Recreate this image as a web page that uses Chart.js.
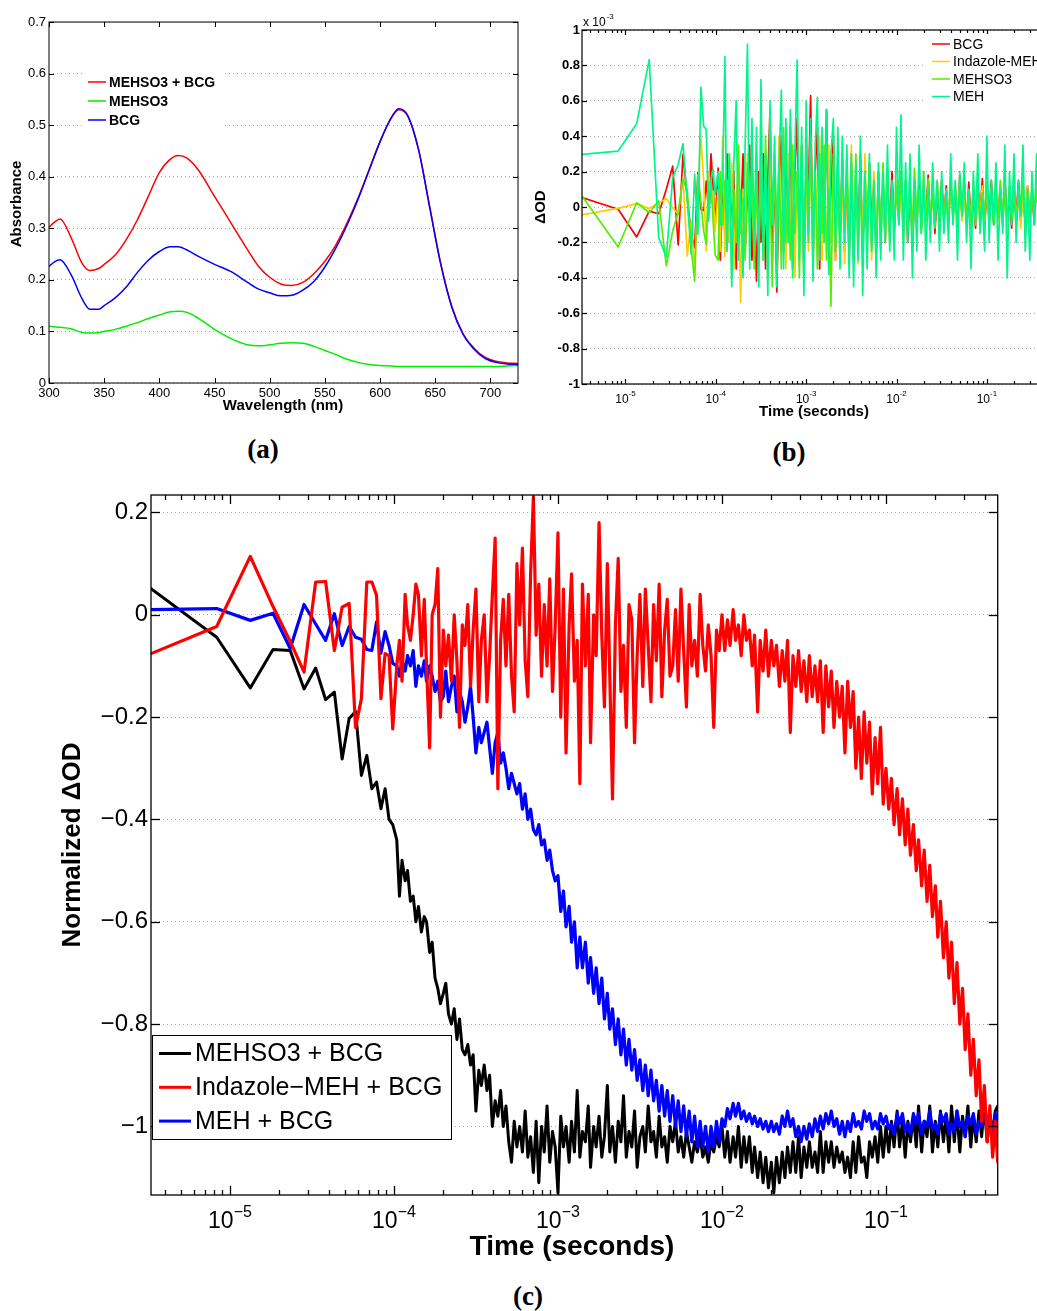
<!DOCTYPE html>
<html>
<head>
<meta charset="utf-8">
<script src="https://cdn.jsdelivr.net/npm/chart.js@4.4.1/dist/chart.umd.min.js"></script>
<style>
  html, body { margin: 0; padding: 0; background: #fff; }
  body { position: relative; width: 1037px; height: 1311px; overflow: hidden; }
  canvas { position: absolute; }
  .cap { position: absolute; font: bold 27px 'Liberation Serif', 'Times New Roman', serif; color: #000; transform: translate(-50%, -50%); white-space: nowrap; }
</style>
</head>
<body>
<canvas id="spectra" width="530" height="430" style="left:0;top:0"></canvas>
<canvas id="raw" width="540" height="430" style="left:530px;top:0"></canvas>
<canvas id="norm" width="1037" height="800" style="left:0;top:480px"></canvas>
<div class="cap" style="left:263px;top:449px">(a)</div>
<div class="cap" style="left:789px;top:452px">(b)</div>
<div class="cap" style="left:528px;top:1296px">(c)</div>
<script>
// (a) absorbance spectra
const wavelengths = [300, 305, 310, 320, 330, 337, 345, 350, 360, 370, 380, 390, 400, 410, 417, 425, 435, 450, 465, 480, 490, 500, 510, 520, 530, 540, 550, 560, 570, 580, 590, 600, 610, 617, 625, 635, 645, 655, 665, 675, 685, 695, 705, 715, 725];
const absMehso3Bcg = [0.302, 0.312, 0.318, 0.282, 0.232, 0.218, 0.222, 0.23, 0.248, 0.278, 0.316, 0.362, 0.408, 0.434, 0.441, 0.436, 0.414, 0.362, 0.31, 0.258, 0.226, 0.205, 0.192, 0.189, 0.195, 0.212, 0.236, 0.268, 0.31, 0.358, 0.413, 0.468, 0.513, 0.53, 0.518, 0.452, 0.342, 0.232, 0.149, 0.097, 0.068, 0.05, 0.042, 0.039, 0.038];
const absMehso3 = [0.11, 0.109, 0.108, 0.105, 0.098, 0.097, 0.098, 0.1, 0.104, 0.11, 0.117, 0.125, 0.132, 0.138, 0.139, 0.137, 0.126, 0.104, 0.086, 0.074, 0.072, 0.074, 0.077, 0.078, 0.077, 0.071, 0.063, 0.055, 0.046, 0.04, 0.036, 0.034, 0.033, 0.032, 0.032, 0.032, 0.032, 0.032, 0.032, 0.032, 0.032, 0.032, 0.032, 0.033, 0.034];
const absBcg = [0.226, 0.235, 0.239, 0.21, 0.163, 0.143, 0.143, 0.15, 0.165, 0.186, 0.214, 0.238, 0.255, 0.264, 0.264, 0.258, 0.246, 0.23, 0.216, 0.195, 0.182, 0.175, 0.169, 0.17, 0.18, 0.197, 0.225, 0.262, 0.306, 0.356, 0.412, 0.468, 0.514, 0.532, 0.519, 0.451, 0.34, 0.23, 0.147, 0.095, 0.066, 0.048, 0.04, 0.037, 0.036];

const decadeTicks = [-5, -4, -3, -2, -1];

// (b) sample times in microseconds
const rawTimeUs = [3.3, 8.3, 13.3, 18.3, 23.3, 28.3, 33.3, 38.3, 43.3, 48.3, 53.3, 58.3, 63.3, 68.3, 73.3, 78.3, 83.3, 88.3, 93.3, 98.3,
  106, 112, 119, 126, 133, 141, 150, 158, 168, 178, 188, 200, 211, 224, 237, 251, 266, 282, 299, 316, 335, 355, 376, 398, 422, 447, 473, 501, 531, 562, 596, 631, 668, 708, 750, 794, 841, 891, 944,
  1000, 1060, 1120, 1190, 1260, 1330, 1410, 1500, 1580, 1680, 1780, 1880, 2000, 2110, 2240, 2370, 2510, 2660, 2820, 2990, 3160, 3350, 3550, 3760, 3980, 4220, 4470, 4730, 5010, 5310, 5620, 5960, 6310, 6680, 7080, 7500, 7940, 8410, 8910, 9440,
  10000, 10600, 11200, 11900, 12600, 13300, 14100, 15000, 15800, 16800, 17800, 18800, 20000, 21100, 22400, 23700, 25100, 26600, 28200, 29900, 31600, 33500, 35500, 37600, 39800, 42200, 44700, 47300, 50100, 53100, 56200, 59600, 63100, 66800, 70800, 75000, 79400, 84100, 89100, 94400,
  100000, 106000, 112000, 119000, 126000, 133000, 141000, 150000, 158000, 168000, 178000, 188000, 200000, 211000, 224000, 237000, 251000, 266000, 282000, 299000, 316000, 335000, 355000, 376000, 398000, 422000, 447000, 473000];

// (b) raw difference signal, units of 1e-3
const rawBcg = [0.053, -0.013, -0.169, -0.023, -0.038, 0.1, 0.231, -0.214, 0.297, 0.05, -0.15, -0.23, 0.194, -0.012, -0.02, 0.147, -0.03, 0.3, 0.118, -0.1,
  0.22, -0.3, 0.1, -0.15, 0.3, -0.2, 0.05, 0.2, -0.35, 0.15, -0.1, 0.3, -0.25, 0.1, 0.35, -0.3, 0.05, -0.42, 0.2,
  -0.2, 0.3, -0.35, 0.15, 0.55, -0.3, 0.2, -0.48, 0.1, 0.4, -0.25, 0.3, -0.1, 0.45, -0.35, 0.2, 0.5, -0.2, 0.35, -0.4, 0.25, 0.1, 0.63, -0.3, 0.2, 0.45, -0.35, 0.3, -0.15, 0.55, -0.25, 0.1, 0.4, -0.3, 0.25, -0.2, 0.3, -0.25, 0.2, -0.3,
  0.25, -0.3, 0.2, -0.15, 0.3, -0.25, 0.1, -0.2, 0.25, -0.1, 0.15, -0.28, 0.2, -0.15, 0.1, -0.2, 0.15, -0.1, 0.2, -0.12,
  0.1, -0.05, 0.2, -0.15, 0.15, -0.2, 0.1, -0.22, 0.05, -0.1, 0.15, -0.12, 0.1, -0.05, 0.18, -0.1, 0.12, -0.15, 0.08, -0.1, 0.15, -0.05,
  0.12, -0.08, 0.15, -0.05, 0.1, -0.12, 0.18, -0.06, 0.1, -0.1, 0.14, -0.08, 0.06, -0.12, 0.12, -0.04, 0.16, -0.1, 0.08, -0.06, 0.15, -0.1, 0.1, -0.05, 0.12, -0.08, 0.18, -0.1, 0.06, -0.12, 0.1, -0.05, 0.15, -0.08, 0.1, -0.1, 0.12, -0.06, 0.08, -0.1, 0.15, -0.05, 0.1, -0.08, 0.12, -0.05];
const rawIndazoleMeh = [-0.045, -0.008, 0.019, -0.009, 0.024, 0.047, -0.004, -0.041, 0.166, -0.277, -0.079, -0.352, 0.1, 0.4, 0.15, -0.248, 0.2, 0.02, 0.09, -0.14,
  0.1, -0.25, 0.4, -0.28, 0.15, -0.2, 0.25, -0.35, 0.05, 0.2, -0.54, 0.1, -0.2, 0.3, -0.15, 0.25, -0.3, 0.1, -0.2,
  0.3, -0.25, 0.15, -0.4, 0.35, -0.1, 0.2, -0.3, 0.4, -0.2, 0.1, -0.35, 0.3, -0.15, 0.25, -0.4, 0.2, -0.1, 0.35, -0.3, 0.15, -0.25, 0.3, -0.35, 0.2, -0.1, 0.4, -0.3, 0.15, -0.25, 0.35, -0.2, 0.1, -0.3, 0.25, -0.15, 0.2, -0.32, 0.3, -0.2,
  0.35, -0.25, 0.2, -0.32, 0.15, -0.2, 0.3, -0.15, 0.1, -0.3, 0.2, -0.1, 0.15, -0.25, 0.1, -0.2, 0.15, -0.15, 0.1, -0.1,
  0.15, -0.1, 0.1, -0.18, 0.12, -0.05, 0.1, -0.2, 0.15, -0.08, 0.05, -0.12, 0.2, -0.1, 0.08, -0.05, 0.12, -0.1, 0.15, -0.05, 0.1, -0.08,
  0.1, -0.05, 0.12, -0.1, 0.08, -0.06, 0.15, -0.08, 0.1, -0.12, 0.06, -0.05, 0.14, -0.1, 0.08, -0.04, 0.12, -0.08, 0.1, -0.1, 0.06, -0.06, 0.16, -0.08, 0.1, -0.05, 0.12, -0.1, 0.08, -0.06, 0.14, -0.08, 0.1, -0.12, 0.06, -0.05, 0.12, -0.08, 0.1, -0.06, 0.15, -0.1, 0.08, -0.05, 0.12, 0.02];
const rawMehso3 = [0.062, -0.226, 0.024, -0.032, 0.034, -0.333, -0.135, -0.03, 0.156, 0.09, -0.23, -0.42, 0.184, 0.03, -0.135, -0.21, 0.137, 0.147, -0.079, -0.27,
  -0.3, 0.2, -0.1, 0.15, -0.25, 0.3, -0.4, 0.1, -0.2, 0.35, -0.15, 0.05, -0.3, 0.25, -0.1, 0.2, -0.35, 0.15, -0.25,
  0.2, -0.3, 0.4, -0.2, 0.1, -0.45, 0.3, -0.1, 0.25, -0.35, 0.45, -0.2, 0.15, -0.3, 0.35, -0.15, 0.2, -0.4, 0.3, -0.25, 0.25, -0.2, 0.4, -0.1, 0.2, -0.35, 0.3, -0.15, 0.35, -0.3, 0.1, -0.56, 0.3, -0.2, 0.15, -0.3, 0.25, -0.15, 0.2, -0.25,
  0.25, -0.2, 0.3, -0.25, 0.15, -0.3, 0.2, -0.1, 0.25, -0.2, 0.1, -0.25, 0.2, -0.15, 0.25, -0.1, 0.15, -0.2, 0.1, -0.15,
  0.12, -0.1, 0.2, -0.08, 0.15, -0.15, 0.1, -0.12, 0.22, -0.05, 0.1, -0.15, 0.12, -0.08, 0.16, -0.1, 0.08, -0.12, 0.14, -0.06, 0.1, -0.1,
  0.08, -0.1, 0.14, -0.06, 0.12, -0.1, 0.08, -0.04, 0.16, -0.08, 0.1, -0.12, 0.06, -0.06, 0.12, -0.1, 0.08, -0.05, 0.14, -0.08, 0.1, -0.1, 0.06, -0.06, 0.15, -0.1, 0.08, -0.05, 0.12, -0.08, 0.1, -0.12, 0.06, -0.05, 0.14, -0.1, 0.08, -0.06, 0.12, -0.08, 0.1, -0.05, 0.14, -0.1, 0.08, 0.0];
const rawMeh = [0.297, 0.316, 0.47, 0.833, -0.173, -0.282, 0.166, 0.24, 0.357, 0.034, -0.267, 0.184, -0.154, 0.677, 0.457, 0.438, -0.08, 0.147, 0.213, 0.07,
  0.2, -0.1, 0.15, 0.85, -0.25, 0.3, -0.45, 0.25, 0.6, -0.3, 0.1, -0.4, 0.35, 0.92, -0.35, 0.5, -0.2, 0.45, -0.45,
  0.72, -0.3, 0.3, -0.5, 0.6, -0.1, 0.4, -0.45, 0.25, 0.66, -0.35, 0.5, -0.2, 0.55, -0.4, 0.3, 0.83, -0.3, 0.45, -0.5, 0.6, -0.15, 0.5, -0.42, 0.35, 0.62, -0.3, 0.45, -0.2, 0.55, -0.38, 0.3, 0.5, -0.25, 0.45, -0.35, 0.4, -0.2, 0.35, -0.4,
  0.3, -0.45, 0.25, -0.3, 0.4, -0.5, 0.2, -0.35, 0.3, -0.25, 0.15, -0.4, 0.25, -0.3, 0.2, -0.2, 0.35, -0.25, 0.15, -0.3,
  0.45, -0.1, 0.52, -0.3, 0.25, -0.2, 0.3, -0.4, 0.15, -0.25, 0.35, -0.15, 0.2, -0.3, 0.1, -0.2, 0.25, -0.1, 0.15, -0.25, 0.2, -0.15,
  0.1, -0.2, 0.3, -0.1, 0.15, -0.3, 0.2, -0.05, 0.25, -0.2, 0.1, -0.35, 0.2, -0.1, 0.3, -0.15, 0.05, -0.25, 0.4, -0.2, 0.15, -0.1, 0.25, -0.3, 0.1, -0.15, 0.35, -0.4, 0.2, -0.1, 0.3, -0.2, 0.15, -0.05, 0.35, -0.25, 0.1, -0.3, 0.2, -0.1, 0.3, -0.15, 0.25, -0.2, 0.35, 0.1];

// (c) sample times in microseconds
const normTimeUs = [3.3, 8.3, 13.3, 18.3, 23.3, 28.3, 33.3, 38.3, 43.3, 48.3, 53.3, 58.3, 63.3, 68.3, 73.3, 78.3, 83.3, 88.3, 93.3, 98.3,
  104, 108, 112, 117, 121, 126, 131, 136, 141, 147, 153, 158, 165, 171, 178, 185, 192, 200, 207, 215, 224, 233, 242, 251, 261, 271, 282, 293, 304, 316, 329, 341, 355, 369, 383, 398, 414, 430, 447, 464, 482, 501, 521, 541, 562, 584, 607, 631, 655, 681, 708, 736, 764, 794, 825, 858, 891, 926, 962,
  1000, 1040, 1080, 1120, 1170, 1210, 1260, 1310, 1360, 1410, 1470, 1530, 1580, 1650, 1710, 1780, 1850, 1920, 2000, 2070, 2150, 2240, 2330, 2420, 2510, 2610, 2710, 2820, 2930, 3040, 3160, 3290, 3410, 3550, 3690, 3830, 3980, 4140, 4300, 4470, 4640, 4820, 5010, 5210, 5410, 5620, 5840, 6070, 6310, 6550, 6810, 7080, 7360, 7640, 7940, 8250, 8580, 8910, 9260, 9620,
  10000, 10400, 10800, 11200, 11700, 12100, 12600, 13100, 13600, 14100, 14700, 15300, 15800, 16500, 17100, 17800, 18500, 19200, 20000, 20700, 21500, 22400, 23300, 24200, 25100, 26100, 27100, 28200, 29300, 30400, 31600, 32900, 34100, 35500, 36900, 38300, 39800, 41400, 43000, 44700, 46400, 48200, 50100, 52100, 54100, 56200, 58400, 60700, 63100, 65500, 68100, 70800, 73600, 76400, 79400, 82500, 85800, 89100, 92600, 96200,
  100000, 104000, 108000, 112000, 117000, 121000, 126000, 131000, 136000, 141000, 147000, 153000, 158000, 165000, 171000, 178000, 185000, 192000, 200000, 207000, 215000, 224000, 233000, 242000, 251000, 261000, 271000, 282000, 293000, 304000, 316000, 329000, 341000, 355000, 369000, 383000, 398000, 414000, 430000, 447000, 464000, 480000];

// (c) normalized difference signal
const normMehso3Bcg = [0.051, -0.044, -0.143, -0.068, -0.07, -0.145, -0.104, -0.166, -0.151, -0.282, -0.203, -0.189, -0.314, -0.275, -0.34, -0.327, -0.379, -0.34, -0.4, -0.41,
  -0.44, -0.55, -0.48, -0.52, -0.5, -0.56, -0.55, -0.6, -0.57, -0.62,
  -0.59, -0.6, -0.66, -0.64, -0.71, -0.73, -0.76, -0.74, -0.72, -0.78,
  -0.8, -0.77, -0.83, -0.79, -0.85, -0.86, -0.84, -0.88, -0.86, -0.97,
  -0.89, -0.92, -0.88, -0.93, -0.9, -1.0, -0.95, -0.98, -0.93, -1.0,
  -0.96, -1.03, -1.07, -0.99, -1.04, -1.0, -1.05, -0.97, -1.06, -1.02,
  -1.09, -0.99, -1.11, -1.0, -1.05, -0.96, -1.07, -1.01, -1.04,
  -1.13, -0.98, -1.04, -1.0, -1.07, -0.99, -1.05, -0.93, -1.06, -1.01,
  -1.03, -0.96, -1.08, -1.0, -1.04, -0.98, -1.06, -1.02, -0.92, -1.05,
  -1.0, -1.07, -0.99, -1.03, -0.94, -1.06, -1.01, -1.04, -0.97, -1.08,
  -1.02, -1.0, -1.05, -0.96, -1.03, -1.01, -1.06, -0.98, -1.04, -1.02,
  -1.07, -1.0, -1.03, -0.99, -1.05, -1.02, -1.06, -1.01, -1.04, -1.07,
  -1.03, -1.05, -1.02, -1.06, -1.04, -1.07, -1.03, -1.05, -1.02, -1.04,
  -1.0, -1.06, -1.01, -1.07, -1.02, -1.06, -1.0, -1.08, -1.02, -1.07,
  -1.02, -1.09, -1.04, -1.1, -1.05, -1.11, -1.06, -1.12, -1.07, -1.13,
  -1.06, -1.11, -1.05, -1.1, -1.04, -1.09, -1.03, -1.09, -1.02, -1.1,
  -1.04, -1.08, -1.03, -1.08, -1.05, -1.09, -1.01, -1.09, -1.03, -1.07,
  -1.03, -1.08, -1.04, -1.07, -1.05, -1.09, -1.06, -1.1, -1.03, -1.09,
  -1.02, -1.07, -1.06, -1.1, -1.03, -1.06, -1.02, -1.07, -1.0, -1.06,
  -1.0, -1.05, -0.99, -1.04, -0.97, -1.04, -0.99, -1.06, -0.99, -1.03,
  -0.98, -1.04, -0.96, -1.05, -0.99, -1.02, -0.96, -1.05, -0.99, -1.04,
  -0.97, -1.03, -0.98, -1.05, -0.96, -1.03, -0.97, -1.05, -0.98, -1.02,
  -0.96, -1.04, -0.98, -1.03, -0.97, -1.02, -0.96, -1.03, -0.98, -1.01,
  -0.97, -0.96];
const normIndazoleMehBcg = [-0.076, -0.023, 0.114, 0.016, -0.052, -0.112, 0.064, 0.065, -0.07, 0.015, 0.022, -0.22, -0.164, 0.064, 0.064, 0.038, -0.164, -0.076, -0.08, -0.223,
  -0.1, -0.05, -0.13, 0.04, -0.02, -0.05, 0.0, 0.06, 0.04, -0.08,
  0.03, -0.1, -0.26, 0.0, 0.02, 0.09, -0.2, -0.03, -0.1, -0.04,
  -0.13, 0.0, -0.09, -0.22, -0.02, -0.06, 0.02, -0.14, -0.03, 0.05,
  -0.17, -0.05, 0.0, -0.17, -0.08, 0.04, 0.15, -0.34, -0.05, 0.03,
  -0.1, 0.04, -0.12, -0.19, 0.1, -0.02, 0.13, -0.09, -0.16, 0.08,
  0.23, -0.04, 0.06, -0.12, 0.02, -0.1, 0.07, -0.15, -0.02,
  0.16, -0.2, 0.05, -0.27, -0.02, 0.08, -0.13, -0.05, -0.33, 0.06,
  -0.1, 0.04, -0.25, 0.0, -0.08, 0.18, -0.04, -0.18, 0.1, -0.12,
  -0.36, -0.02, 0.11, -0.15, -0.06, -0.22, 0.02, -0.01, -0.25, -0.08,
  0.04, -0.14, 0.05, -0.06, -0.17, 0.02, -0.09, 0.06, -0.16, -0.03,
  0.03, -0.12, -0.1, 0.01, -0.13, 0.05, -0.07, -0.18, 0.02, -0.1,
  -0.05, -0.12, 0.04, -0.06, -0.11, -0.02, -0.08, -0.22, -0.03, -0.07,
  0.0, -0.07, -0.01, -0.06, 0.01, -0.05, -0.02, -0.08, 0.0, -0.05,
  -0.03, -0.1, -0.04, -0.19, -0.05, -0.11, -0.03, -0.12, -0.05, -0.1,
  -0.06, -0.14, -0.07, -0.13, -0.05, -0.23, -0.08, -0.14, -0.07, -0.15,
  -0.09, -0.17, -0.08, -0.16, -0.1, -0.17, -0.09, -0.23, -0.1, -0.18,
  -0.11, -0.22, -0.13, -0.2, -0.14, -0.27, -0.13, -0.22, -0.15, -0.3,
  -0.2, -0.32, -0.19, -0.29, -0.21, -0.35, -0.24, -0.33, -0.22, -0.37,
  -0.3, -0.38, -0.32, -0.41, -0.34, -0.43, -0.36, -0.45, -0.38, -0.47,
  -0.41, -0.5, -0.44, -0.53, -0.46, -0.56, -0.49, -0.59, -0.53, -0.63,
  -0.56, -0.67, -0.6, -0.71, -0.64, -0.76, -0.68, -0.8, -0.73, -0.85,
  -0.78, -0.9, -0.83, -0.94, -0.87, -0.99, -0.92, -1.03, -0.96, -1.06,
  -0.99, -1.07];
const normMehBcg = [0.01, 0.012, -0.011, 0.003, -0.066, 0.02, -0.018, -0.05, 0.002, -0.06, -0.023, -0.044, -0.048, -0.068, -0.07, -0.014, -0.075, -0.033, -0.06, -0.095,
  -0.1, -0.12, -0.09, -0.11, -0.08, -0.1, -0.07, -0.14, -0.1, -0.12,
  -0.09, -0.13, -0.1, -0.12, -0.15, -0.13, -0.17, -0.16, -0.11, -0.17,
  -0.14, -0.12, -0.19, -0.15, -0.17, -0.21, -0.18, -0.14, -0.2, -0.27,
  -0.22, -0.25, -0.23, -0.21, -0.26, -0.31, -0.25, -0.23, -0.29, -0.27,
  -0.3, -0.34, -0.31, -0.33, -0.35, -0.33, -0.38, -0.35, -0.4, -0.38,
  -0.42, -0.43, -0.41, -0.45, -0.44, -0.48, -0.46, -0.5, -0.52,
  -0.51, -0.58, -0.54, -0.61, -0.57, -0.64, -0.6, -0.69, -0.63, -0.69,
  -0.64, -0.72, -0.67, -0.74, -0.69, -0.76, -0.71, -0.79, -0.74, -0.81,
  -0.77, -0.84, -0.79, -0.86, -0.81, -0.88, -0.83, -0.89, -0.85, -0.91,
  -0.87, -0.93, -0.88, -0.94, -0.89, -0.95, -0.91, -0.97, -0.92, -0.98,
  -0.93, -0.99, -0.94, -1.0, -0.95, -1.01, -0.96, -1.02, -0.97, -1.03,
  -0.98, -1.04, -0.99, -1.04, -1.0, -1.05, -1.0, -1.04, -0.99, -1.03,
  -0.985, -1.0, -0.965, -0.985, -0.955, -0.98, -0.955, -0.985, -0.97, -0.99,
  -0.975, -0.995, -0.98, -1.0, -0.985, -1.005, -0.99, -1.01, -0.99, -1.01,
  -0.995, -1.015, -0.98, -1.0, -0.97, -1.0, -0.985, -1.02, -1.0, -1.03,
  -1.0, -1.025, -0.995, -1.02, -0.985, -1.01, -0.98, -1.005, -0.975, -0.995,
  -0.97, -1.0, -0.985, -1.015, -0.99, -1.02, -0.99, -1.01, -0.975, -1.0,
  -0.99, -1.005, -0.97, -0.99, -0.975, -1.005, -0.99, -1.005, -0.975, -0.995,
  -0.98, -1.005, -0.995, -1.015, -0.975, -0.995, -0.975, -1.01, -0.995, -1.015,
  -0.975, -0.995, -0.975, -1.015, -0.99, -1.0, -0.97, -1.005, -0.995, -1.015,
  -0.975, -0.99, -0.975, -1.015, -0.995, -1.01, -0.97, -1.0, -0.99, -1.02,
  -0.98, -0.995, -0.975, -1.015, -0.99, -1.0, -0.965, -1.0, -0.99, -1.01,
  -0.975, -0.995];

const FONT = "'Liberation Sans', Arial, Helvetica, sans-serif";
const rawTimeSec = rawTimeUs.map(t => t * 1e-6);
const normTimeSec = normTimeUs.map(t => t * 1e-6);

// pin a scale's size so every chart area lands where it should
function fixBox(prop, size) {
  return scale => {
    scale[prop] = size;
    scale.paddingTop = scale.paddingBottom = scale.paddingLeft = scale.paddingRight = 0;
  };
}

function trace(label, color, width, xs, ys, order, smooth) {
  return {
    label, order,
    borderColor: color, backgroundColor: color, borderWidth: width,
    pointRadius: 0, borderJoinStyle: 'round', borderCapStyle: 'round',
    tension: 0, cubicInterpolationMode: smooth ? 'monotone' : 'default',
    data: xs.map((x, i) => ({ x, y: ys[i] }))
  };
}

function yAxis(min, max, step, font, width, pad, fmt) {
  return {
    min, max,
    ticks: { stepSize: step, includeBounds: false, font, color: '#000', padding: pad, callback: fmt },
    grid: { color: '#a8a8a8', lineWidth: 1, drawTicks: false },
    border: { display: false, dash: [1, 3] },
    afterFit: fixBox('width', width)
  };
}

function logX(height) {
  return {
    type: 'logarithmic', min: 3.3e-6, max: 0.48,
    ticks: { display: false },
    grid: { display: false, drawTicks: false },
    border: { display: false },
    afterFit: fixBox('height', height)
  };
}

// box frame with inward ticks, log tick labels, titles and an in-plot legend
const boxAxes = {
  id: 'boxAxes',
  afterDraw(chart, args, o) {
    const { ctx, chartArea: a, scales: { x, y } } = chart;
    const seg = (x1, y1, x2, y2) => { ctx.beginPath(); ctx.moveTo(x1, y1); ctx.lineTo(x2, y2); ctx.stroke(); };
    ctx.save();
    ctx.strokeStyle = '#000';
    ctx.lineWidth = o.frameWidth;

    y.ticks.forEach(t => {
      const py = Math.round(y.getPixelForValue(t.value)) + 0.5;
      seg(a.left, py, a.left + o.tickLen, py);
      seg(a.right, py, a.right - o.tickLen, py);
    });

    const xMarks = [];
    if (x.type === 'logarithmic') {
      for (let d = Math.floor(Math.log10(x.min)); d <= Math.ceil(Math.log10(x.max)); d++) {
        for (let m = 1; m < 10; m++) {
          const v = m * Math.pow(10, d);
          if (v >= x.min && v <= x.max) xMarks.push({ v, major: m === 1 });
        }
      }
    } else {
      x.ticks.forEach(t => xMarks.push({ v: t.value, major: true }));
    }
    xMarks.forEach(t => {
      const px = Math.round(x.getPixelForValue(t.v)) + 0.5;
      const len = t.major ? o.tickLen : o.minorLen;
      seg(px, a.bottom, px, a.bottom - len);
      seg(px, a.top, px, a.top + len);
    });
    ctx.strokeRect(a.left, a.top, a.right - a.left, a.bottom - a.top);

    ctx.fillStyle = '#000';
    if (o.logLabels) {
      const L = o.logLabels;
      ctx.textAlign = 'left';
      ctx.textBaseline = 'alphabetic';
      decadeTicks.forEach(d => {
        const px = x.getPixelForValue(Math.pow(10, d));
        const exp = L.minus + Math.abs(d);
        ctx.font = L.font;
        const wb = ctx.measureText('10').width;
        ctx.font = L.supFont;
        const we = ctx.measureText(exp).width;
        const x0 = px - (wb + we) / 2;
        ctx.font = L.font;
        ctx.fillText('10', x0, L.base);
        ctx.font = L.supFont;
        ctx.fillText(exp, x0 + wb, L.supBase);
      });
    }

    (o.titles || []).forEach(t => {
      ctx.save();
      ctx.translate(t.x, t.y);
      if (t.rotate) ctx.rotate(-Math.PI / 2);
      ctx.font = t.font;
      if (t.sup) {
        ctx.textAlign = 'left';
        ctx.textBaseline = 'alphabetic';
        ctx.fillText(t.text, 0, 0);
        const w = ctx.measureText(t.text).width;
        ctx.font = t.supFont;
        ctx.fillText(t.sup, w + 1, -t.supRise);
      } else {
        ctx.textAlign = 'center';
        ctx.textBaseline = 'middle';
        ctx.fillText(t.text, 0, 0);
      }
      ctx.restore();
    });

    if (o.legend) {
      const g = o.legend;
      ctx.fillStyle = '#fff';
      ctx.fillRect(g.box[0], g.box[1], g.box[2], g.box[3]);
      if (g.border) {
        ctx.lineWidth = 1;
        ctx.strokeStyle = '#000';
        ctx.strokeRect(g.box[0] + 0.5, g.box[1] + 0.5, g.box[2], g.box[3]);
      }
      ctx.font = g.font;
      ctx.textAlign = 'left';
      ctx.textBaseline = 'middle';
      chart.data.datasets.forEach((ds, i) => {
        const yy = g.y + i * g.gap;
        ctx.strokeStyle = ds.borderColor;
        ctx.lineWidth = g.lineWidth;
        ctx.lineCap = 'butt';
        seg(g.x, yy, g.x + g.len, yy);
        ctx.fillStyle = '#000';
        ctx.fillText(ds.label, g.x + g.len + g.pad, yy + 1);
      });
    }
    ctx.restore();
  }
};

const common = {
  responsive: false,
  animation: false,
  events: [],
  devicePixelRatio: 1
};

// (a)
new Chart(document.getElementById('spectra'), {
  type: 'line',
  data: {
    datasets: [
      trace('MEHSO3 + BCG', '#ff0000', 1.5, wavelengths, absMehso3Bcg, 2, true),
      trace('MEHSO3', '#00ee00', 1.5, wavelengths, absMehso3, 1, true),
      trace('BCG', '#0000ff', 1.5, wavelengths, absBcg, 0, true)
    ]
  },
  options: {
    ...common,
    layout: { padding: { left: 0, top: 22, right: 12, bottom: 0 } },
    plugins: {
      legend: { display: false },
      tooltip: { enabled: false },
      boxAxes: {
        frameWidth: 1, tickLen: 5, minorLen: 3,
        titles: [
          { text: 'Absorbance', x: 17, y: 204, rotate: true, font: `bold 15px ${FONT}` },
          { text: 'Wavelength (nm)', x: 283, y: 406, font: `bold 15px ${FONT}` }
        ],
        legend: { box: [85, 70, 137, 60], x: 88, y: 82, gap: 19, len: 18, pad: 3, lineWidth: 1.5, font: `bold 14px ${FONT}` }
      }
    },
    scales: {
      x: {
        type: 'linear', min: 300, max: 725,
        ticks: { stepSize: 50, includeBounds: false, font: { family: FONT, size: 13 }, color: '#000', padding: 3, maxRotation: 0, autoSkip: false },
        grid: { display: false, drawTicks: false },
        border: { display: false },
        afterFit: fixBox('height', 47)
      },
      y: yAxis(0, 0.7, 0.1, { family: FONT, size: 13 }, 49, 3, v => String(Math.round(v * 10) / 10))
    }
  },
  plugins: [boxAxes]
});

// (b)
new Chart(document.getElementById('raw'), {
  type: 'line',
  data: {
    datasets: [
      trace('BCG', '#ff0000', 1.7, rawTimeSec, rawBcg, 3),
      trace('Indazole-MEH', '#ffcc00', 1.7, rawTimeSec, rawIndazoleMeh, 2),
      trace('MEHSO3', '#55ee00', 1.7, rawTimeSec, rawMehso3, 1),
      trace('MEH', '#00f58a', 1.7, rawTimeSec, rawMeh, 0)
    ]
  },
  options: {
    ...common,
    layout: { padding: { left: 0, top: 30, right: 21.6, bottom: 0 } },
    plugins: {
      legend: { display: false },
      tooltip: { enabled: false },
      boxAxes: {
        frameWidth: 1.2, tickLen: 5, minorLen: 3,
        logLabels: { minus: '-', font: `12px ${FONT}`, supFont: `8px ${FONT}`, base: 402.5, supBase: 396 },
        titles: [
          { text: '\u0394OD', x: 10.5, y: 207, rotate: true, font: `bold 15px ${FONT}` },
          { text: 'Time (seconds)', x: 284, y: 412, font: `bold 15px ${FONT}` },
          { text: 'x 10', sup: '-3', x: 53, y: 26, font: `12px ${FONT}`, supFont: `8px ${FONT}`, supRise: 7 }
        ],
        legend: { box: [395, 34, 145, 72], x: 402, y: 44, gap: 17.5, len: 18, pad: 3, lineWidth: 1.5, font: `14px ${FONT}` }
      }
    },
    scales: {
      x: logX(46),
      y: yAxis(-1, 1, 0.2, { family: FONT, size: 13, weight: 'bold' }, 52, 2, v => String(Math.round(v * 10) / 10))
    }
  },
  plugins: [boxAxes]
});

// (c)
new Chart(document.getElementById('norm'), {
  type: 'line',
  data: {
    datasets: [
      trace('MEHSO3 + BCG', '#000000', 3, normTimeSec, normMehso3Bcg, 2),
      trace('Indazole\u2212MEH + BCG', '#ff0000', 3.2, normTimeSec, normIndazoleMehBcg, 0),
      trace('MEH + BCG', '#0000ff', 3.2, normTimeSec, normMehBcg, 1)
    ]
  },
  options: {
    ...common,
    layout: { padding: { left: 0, top: 15, right: 39.3, bottom: 0 } },
    plugins: {
      legend: { display: false },
      tooltip: { enabled: false },
      boxAxes: {
        frameWidth: 1.3, tickLen: 9, minorLen: 5,
        logLabels: { minus: '\u2212', font: `23px ${FONT}`, supFont: `16px ${FONT}`, base: 748, supBase: 737 },
        titles: [
          { text: 'Normalized \u0394OD', x: 73, y: 365, rotate: true, font: `bold 26px ${FONT}` },
          { text: 'Time (seconds)', x: 572, y: 767, font: `bold 28px ${FONT}` }
        ],
        legend: { box: [152, 555, 299, 104], border: true, x: 159, y: 573.5, gap: 33.8, len: 32, pad: 4, lineWidth: 3, font: `25px ${FONT}` }
      }
    },
    scales: {
      x: logX(85),
      y: yAxis(-1.134, 0.234, 0.2, { family: FONT, size: 24 }, 151, 3, v => {
        const r = Math.round(v * 10) / 10;
        return (r < 0 ? '\u2212' : '') + Math.abs(r);
      })
    }
  },
  plugins: [boxAxes]
});
</script>
</body>
</html>
